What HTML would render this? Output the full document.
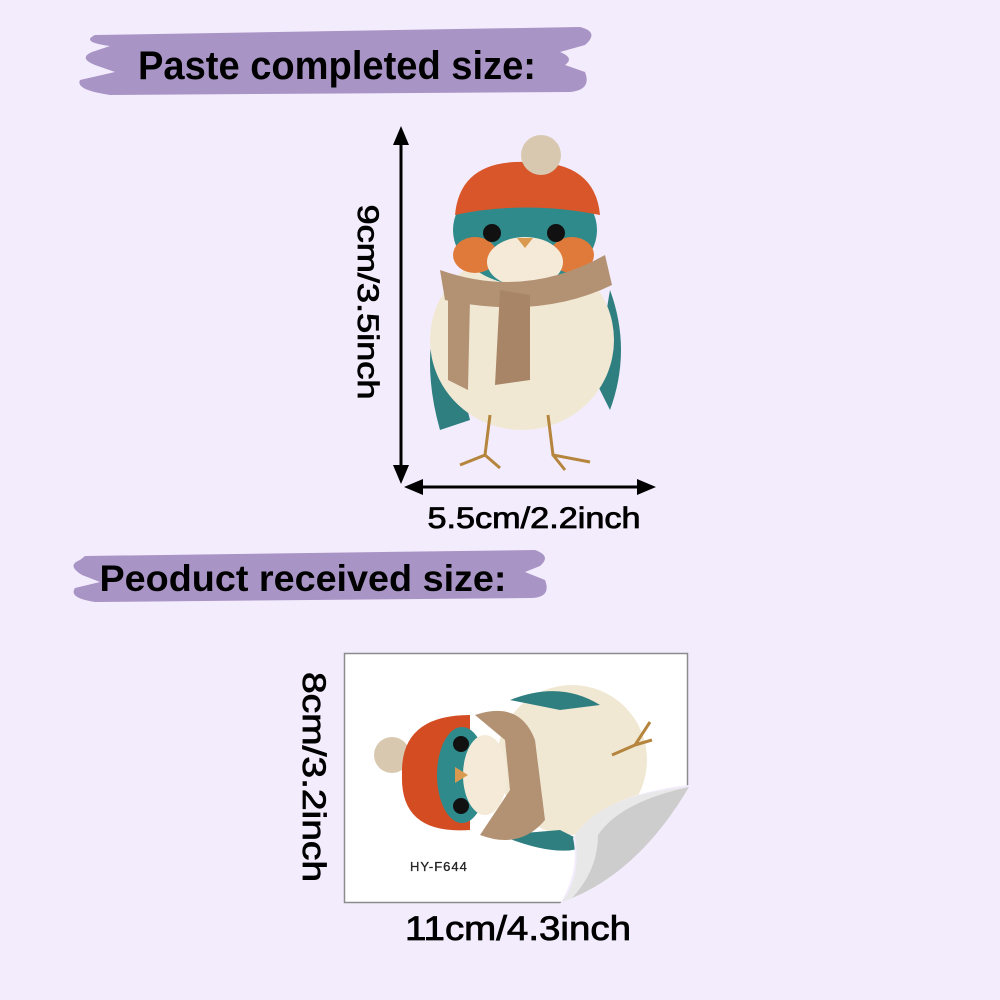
<!DOCTYPE html>
<html><head><style>html,body{margin:0;padding:0;background:#f3ecfc;}svg{display:block}</style></head>
<body>
<svg width="1000" height="1000" viewBox="0 0 1000 1000" xmlns="http://www.w3.org/2000/svg" font-family="Liberation Sans, sans-serif">
<rect width="1000" height="1000" fill="#f3ecfc"/>
<!-- banner 1 -->
<path d="M95,35 L580,27 Q600,32 585,45 L560,52 Q575,58 565,65 L585,72 Q592,90 570,92 L110,95 Q75,90 80,80 L115,72 L95,65 Q78,58 92,52 L110,46 Q80,42 95,35Z" fill="#a994c6"/>
<text x="337" y="79" font-size="40" font-weight="bold" text-anchor="middle" textLength="398" lengthAdjust="spacingAndGlyphs">Paste completed size:</text>
<!-- banner 2 -->
<path d="M85,556 L535,550 Q552,556 540,566 L525,572 L545,580 Q552,598 530,598 L95,602 Q68,598 75,588 L100,582 L82,575 Q66,565 80,560Z" fill="#a994c6"/>
<text x="303" y="591" font-size="37" font-weight="bold" text-anchor="middle" textLength="407" lengthAdjust="spacingAndGlyphs">Peoduct received size:</text>
<!-- vertical arrow -->
<line x1="401" y1="138" x2="401" y2="472" stroke="#000" stroke-width="3"/>
<path d="M401,126 L393,145 L409,145Z M401,484 L393,465 L409,465Z" fill="#000"/>
<g stroke="#000" stroke-width="0.8">
<text transform="translate(358,302) rotate(90)" font-size="30" text-anchor="middle" textLength="195" lengthAdjust="spacingAndGlyphs">9cm/3.5inch</text>
<text x="534" y="528" font-size="30" text-anchor="middle" textLength="213" lengthAdjust="spacingAndGlyphs">5.5cm/2.2inch</text>
<text transform="translate(303,777) rotate(90)" font-size="32" text-anchor="middle" textLength="210" lengthAdjust="spacingAndGlyphs">8cm/3.2inch</text>
<text x="518" y="940" font-size="34" text-anchor="middle" textLength="226" lengthAdjust="spacingAndGlyphs">11cm/4.3inch</text>
</g>
<!-- horizontal arrow -->
<line x1="415" y1="487" x2="645" y2="487" stroke="#000" stroke-width="3"/>
<path d="M404,487 L423,479 L423,495Z M656,487 L637,479 L637,495Z" fill="#000"/>
<!-- bird 1 -->
<g>
<path d="M440,300 Q420,360 440,430 L470,420Z" fill="#2f7f80"/>
<path d="M610,290 Q632,350 610,410 L595,380Z" fill="#2f7f80"/>
<ellipse cx="522" cy="340" rx="92" ry="90" fill="#f1e8d4"/>
<ellipse cx="525" cy="230" rx="72" ry="55" fill="#2f8a8c"/>
<ellipse cx="475" cy="255" rx="22" ry="18" fill="#e07a3a"/>
<ellipse cx="572" cy="255" rx="22" ry="18" fill="#e07a3a"/>
<ellipse cx="525" cy="262" rx="38" ry="25" fill="#f4ead7"/>
<path d="M455,215 Q460,160 525,162 Q595,160 600,215 Q525,200 455,215Z" fill="#d9562a"/>
<circle cx="541" cy="155" r="20" fill="#d8c8b0"/>
<circle cx="492" cy="233" r="9" fill="#111"/><circle cx="556" cy="233" r="9" fill="#111"/>
<path d="M517,238 L533,238 L525,248Z" fill="#d99a50"/>
<path d="M440,270 Q525,300 605,255 L612,285 Q540,320 445,300Z" fill="#b39274"/>
<path d="M500,290 L530,295 L530,380 L495,385Z" fill="#a88566"/>
<path d="M448,300 L470,300 L468,390 L448,380Z" fill="#b39274"/>
<path d="M490,415 L485,455 L460,465 M485,455 L500,468 M548,415 L553,455 L590,462 M553,455 L565,470" stroke="#b5853e" stroke-width="3" fill="none"/>
</g>
<!-- card -->
<rect x="344.5" y="653.5" width="343" height="249" fill="#fff" stroke="#8c8c8c" stroke-width="1.5"/>
<g>
<circle cx="392" cy="755" r="18" fill="#d8c8b0"/>
<path d="M470,715 Q400,715 402,775 Q400,835 470,830Z" fill="#d44c22"/>
<ellipse cx="462" cy="775" rx="25" ry="48" fill="#2f8a8c"/>
<ellipse cx="572" cy="760" rx="75" ry="75" fill="#f1e8d4"/>
<path d="M510,700 Q560,680 600,705 L560,710Z" fill="#2f7f80"/>
<path d="M500,835 Q560,860 590,845 L560,830Z" fill="#2f7f80"/>
<ellipse cx="485" cy="775" rx="22" ry="40" fill="#f4ead7"/>
<path d="M475,715 Q520,700 535,740 L545,820 Q520,850 480,835 L510,790 L505,740Z" fill="#b39274"/>
<circle cx="461" cy="744" r="8" fill="#111"/><circle cx="461" cy="806" r="8" fill="#111"/>
<path d="M455,767 L455,783 L468,775Z" fill="#d99a50"/>
<path d="M612,755 L635,745 L650,722 M635,745 L652,740" stroke="#b5853e" stroke-width="3" fill="none"/>
</g>
<text x="410" y="871" font-size="13" fill="#222" stroke="#222" stroke-width="0.3" letter-spacing="1">HY-F644</text>
<path d="M689,785 L689,904 L560,904 Q580,870 573,838 Q600,795 689,785Z" fill="#f3ecfc"/>
<path d="M689,787 Q600,795 575,836 Q582,875 562,902 Q630,880 689,787Z" fill="#e8e8e8"/>
<path d="M689,787 Q620,802 598,835 Q598,870 572,898 Q640,870 689,787Z" fill="#cdcdcd"/>
</svg>
</body></html>
